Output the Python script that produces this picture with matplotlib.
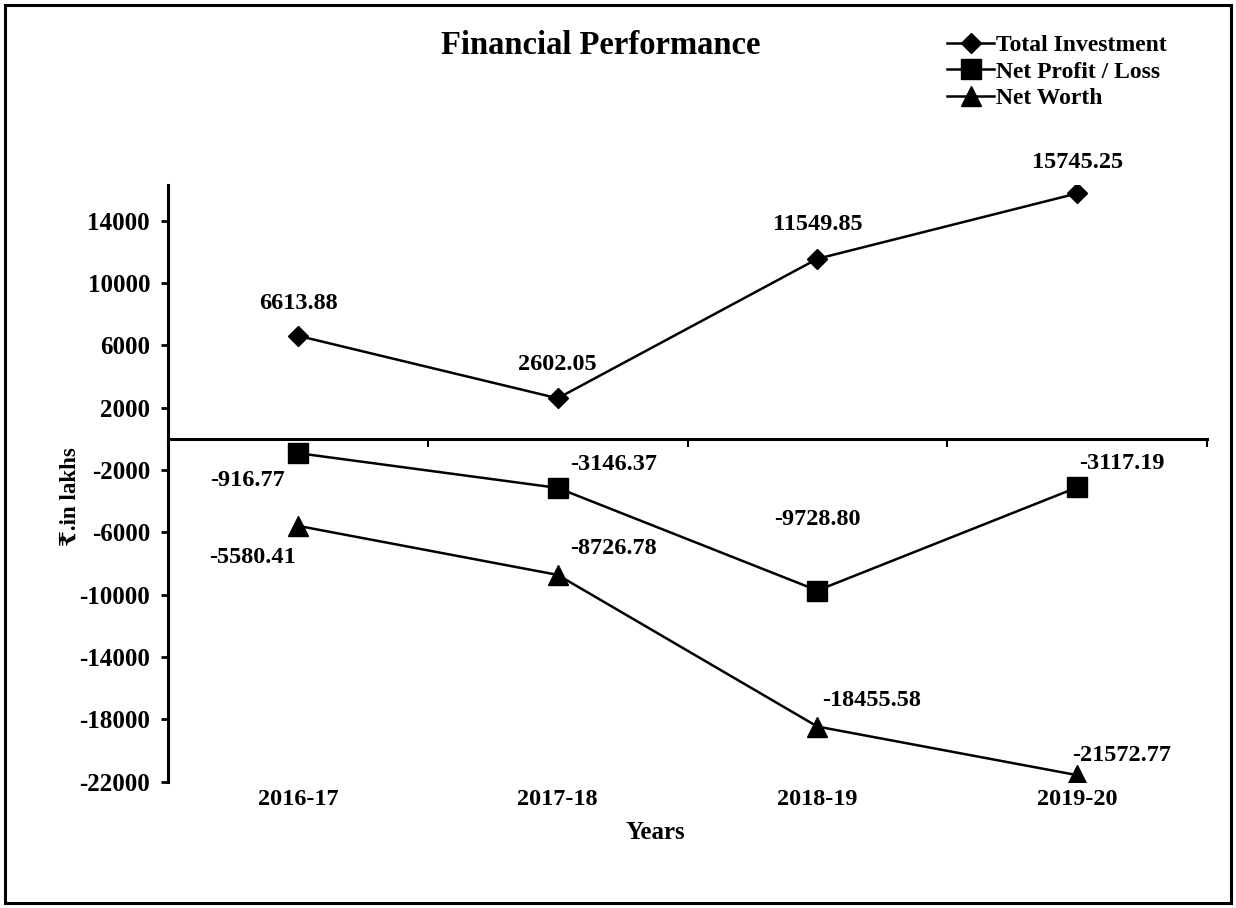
import matplotlib.pyplot as plt
from matplotlib.patches import Rectangle

years = ['2016-17', '2017-18', '2018-19', '2019-20']
total_investment = [6613.88, 2602.05, 11549.85, 15745.25]
net_profit = [-916.77, -3146.37, -9728.80, -3117.19]
net_worth = [-5580.41, -8726.78, -18455.58, -21572.77]
yticks = list(range(-22000, 14001, 4000))

plt.rcParams['font.family'] = ['Liberation Serif', 'DejaVu Serif']
plt.rcParams['font.weight'] = 'bold'

fig = plt.figure(figsize=(12.36, 9.08), dpi=100)
ax = fig.add_axes([0.136, 0.139, 0.8405, 0.657])

x = list(range(len(years)))
ax.plot(x, total_investment, color='black', lw=1.8, marker='D', ms=10.5, label='Total Investment')
ax.plot(x, net_profit, color='black', lw=1.8, marker='s', ms=14, label='Net Profit / Loss')
ax.plot(x, net_worth, color='black', lw=1.8, marker='^', ms=14, label='Net Worth')

ax.set_xlim(-0.5, 3.5)
ax.set_ylim(-22000, 16270)
ax.set_yticks(yticks)
ax.set_yticklabels([str(v) for v in yticks], fontsize=18, fontweight='bold')

ax.spines['top'].set_visible(False)
ax.spines['right'].set_visible(False)
ax.spines['bottom'].set_position(('data', 0))
ax.spines['left'].set_linewidth(2.2)
ax.spines['bottom'].set_linewidth(2.2)
ax.tick_params(axis='y', direction='out', length=5, width=2, pad=8)
ax.set_xticks([-0.5, 0.5, 1.5, 2.5, 3.5])
ax.set_xticklabels([])
ax.tick_params(axis='x', direction='out', length=6, width=1.5)

for xi, lab in zip(x, years):
    ax.text(xi, -0.03, lab, transform=ax.get_xaxis_transform(), ha='center', va='center',
            fontsize=17.5, fontweight='bold')

# data labels
ti_off = [(0, 23), (0, 24), (0, 25), (0, 22)]
np_off = [(-36, -20), (40, 17), (0, 51), (32, 17)]
nw_off = [(-33, -23), (40, 19), (39, 19), (32, 14)]
for series, offs in [(total_investment, ti_off), (net_profit, np_off), (net_worth, nw_off)]:
    for xi, v, off in zip(x, series, offs):
        ax.annotate('%.2f' % v, (xi, v), xytext=off, textcoords='offset points',
                    ha='center', va='center', fontsize=17.5, fontweight='bold')

fig.text(0.486, 0.950, 'Financial Performance', ha='center', va='center', fontsize=23.5, fontweight='bold')
fig.text(0.530, 0.083, 'Years', ha='center', va='center', fontsize=18, fontweight='bold')
fig.text(0.057, 0.453, '₹.in lakhs', ha='center', va='center', rotation=90, fontsize=16.5, fontweight='bold')

leg = fig.legend(loc='upper right', bbox_to_anchor=(0.952, 0.972), frameon=False,
                 prop={'size': 17, 'weight': 'bold'}, handlelength=2.0, handletextpad=0.1,
                 labelspacing=0.2, borderaxespad=0)

fig.patches.append(Rectangle((0.004, 0.005), 0.992, 0.99, transform=fig.transFigure,
                             fill=False, edgecolor='black', lw=2.2))

fig.savefig('out.png', dpi=100)
